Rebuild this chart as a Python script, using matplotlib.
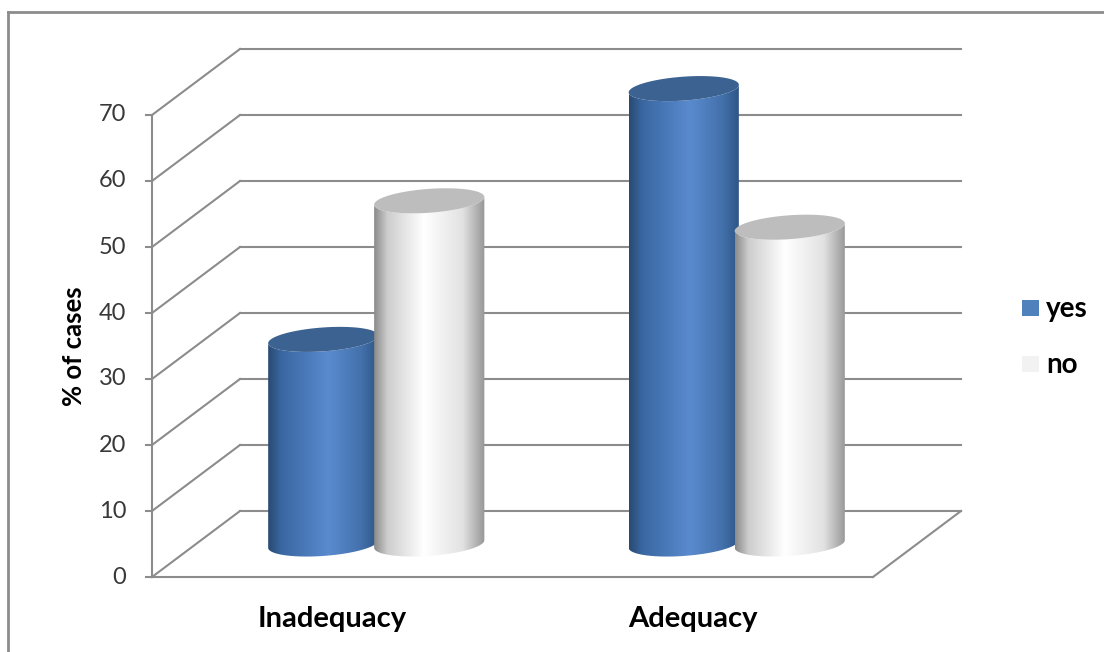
import numpy as np
import matplotlib
matplotlib.use('Agg')
import matplotlib.pyplot as plt
from matplotlib.patches import Polygon, Rectangle
from matplotlib.colors import LinearSegmentedColormap
from matplotlib.lines import Line2D

categories = ['Inadequacy', 'Adequacy']
series = ['yes', 'no']
yes_vals = [31, 69]
no_vals = [52, 48]
yticks = [0, 10, 20, 30, 40, 50, 60, 70]
ylabel = '% of cases'

plt.rcParams['font.family'] = ['Lato', 'DejaVu Sans']

# oblique 3d: depth offset (in data units) for full floor depth
dx, dy = 0.2441, 10.0
grid_col = '#8c8c8c'

fig = plt.figure(figsize=(11.04, 6.52), dpi=100)
ax = fig.add_axes([0, 0, 1, 1])
ax.axis('off')

ncat = len(categories)

# back wall gridlines + diagonals
for v in yticks:
    ax.plot([0, dx], [v, v + dy], color=grid_col, lw=1.5, zorder=1)
    ax.plot([dx, ncat + dx], [v + dy, v + dy], color=grid_col, lw=1.5, zorder=1)
    ax.plot([-0.018, 0], [v, v], color=grid_col, lw=1.5, zorder=1)
    ax.text(-0.071, v, str(v), ha='right', va='center', fontsize=17, color='#383838')

# front axis and floor
ax.plot([0, 0], [0, yticks[-1]], color=grid_col, lw=1.5, zorder=1)
ax.plot([0, ncat], [0, 0], color=grid_col, lw=1.5, zorder=1)
ax.plot([ncat, ncat + dx], [0, dy], color=grid_col, lw=1.5, zorder=1)

ax.text(-0.216, 35, ylabel, rotation=90, ha='center', va='center',
        fontsize=18.5, fontweight='bold', color='black')

for i, c in enumerate(categories):
    ax.text(i + 0.5, -6.3, c, ha='center', va='center', fontsize=21,
            fontweight='bold', color='black')

cmaps = {
    'yes': LinearSegmentedColormap.from_list('b', [(0, '#2a4a72'), (0.12, '#3a67a2'),
                                                   (0.55, '#5a8bcf'), (0.85, '#4370aa'),
                                                   (1, '#2c5384')]),
    'no': LinearSegmentedColormap.from_list('w', [(0, '#8a8a8a'), (0.12, '#cdcdcd'),
                                                  (0.45, '#ffffff'), (0.8, '#e2e2e2'),
                                                  (1, '#969696')]),
}
tops = {'yes': '#3c6291', 'no': '#bdbdbd'}

R = 0.1456
s = 0.19
bw = 0.294


def ell(cx, cy, th):
    return cx + R * np.cos(th) + s * dx * np.sin(th), cy + s * dy * np.sin(th)


thR = np.arctan2(s * dx, R)
half = np.linspace(thR + np.pi, thR + 2 * np.pi, 80)
full = np.linspace(0, 2 * np.pi, 160)
xw = np.sqrt(R ** 2 + (s * dx) ** 2)

z = 3
for i in range(ncat):
    for j, name in enumerate(series):
        val = [yes_vals, no_vals][j][i]
        cx = i + 0.5 + (j - 0.5) * bw + 0.5 * dx
        cy0 = 0.5 * dy
        cy1 = cy0 + val
        bx, by = ell(cx, cy0, half)
        tx, ty = ell(cx, cy1, half[::-1])
        body = Polygon(np.column_stack([np.r_[bx, tx], np.r_[by, ty]]),
                       closed=True, facecolor='none', edgecolor='none', zorder=z)
        ax.add_patch(body)
        grad = np.linspace(0, 1, 256).reshape(1, -1)
        im = ax.imshow(grad, cmap=cmaps[name], aspect='auto',
                       extent=[cx - xw, cx + xw, cy0 - 3, cy1 + 3], zorder=z,
                       interpolation='bilinear')
        im.set_clip_path(body)
        ex, ey = ell(cx, cy1, full)
        ax.add_patch(Polygon(np.column_stack([ex, ey]), closed=True,
                             facecolor=tops[name], edgecolor='none', zorder=z + 0.5))
        z += 1

ax.set_xlim(-152 / 360.5, (1104 - 152) / 360.5)
ax.set_ylim(-(652 - 577) / 6.6, 577 / 6.6)

# legend
leg_cols = {'yes': '#4f81bd', 'no': '#f2f2f2'}
for k, name in enumerate(series):
    ytop = 300 + k * 56
    fig.patches.append(Rectangle((1022 / 1104, 1 - (ytop + 16) / 652), 17 / 1104, 16 / 652,
                                 transform=fig.transFigure, facecolor=leg_cols[name],
                                 edgecolor='none'))
    fig.text(1046 / 1104, 1 - (ytop + 9) / 652, name, ha='left', va='center',
             fontsize=20, fontweight='bold', color='black')

# chart border
fig.add_artist(Line2D([8 / 1104, 1], [1 - 12 / 652, 1 - 12 / 652],
                      transform=fig.transFigure, color='#8c8c8c', lw=2))
fig.add_artist(Line2D([8 / 1104, 8 / 1104], [0, 1 - 12 / 652],
                      transform=fig.transFigure, color='#8c8c8c', lw=2))

fig.savefig('out.png', dpi=100)
